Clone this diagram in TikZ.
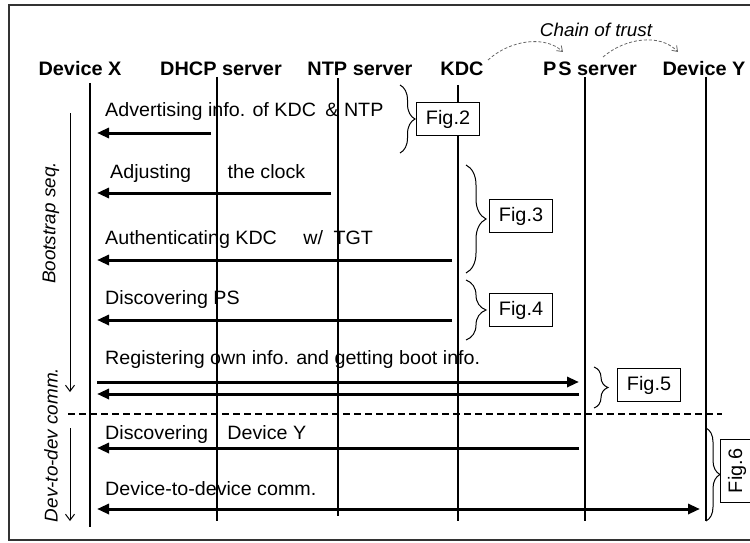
\documentclass[tikz,border=0pt]{standalone}
\usepackage{fontspec}
\setmainfont{Liberation Sans}[FakeStretch=1.02]
\usetikzlibrary{arrows.meta,decorations.pathreplacing}
\begin{document}
\begin{tikzpicture}[x=1pt,y=-1pt,
  head/.style={font=\bfseries\fontsize{19.5}{21}\selectfont, anchor=base, inner sep=0pt},
  msg/.style={font=\fontsize{19.3}{21}\selectfont, anchor=base west, inner sep=0pt},
  sidelabel/.style={font=\itshape\fontsize{18.5}{21}\selectfont, rotate=90, inner sep=0pt},
  life/.style={line width=1.2pt},
  msgarrow/.style={line width=3pt, -{Triangle[length=12pt,width=10pt]}},
  botharrow/.style={line width=3pt, {Triangle[length=12pt,width=10pt]}-{Triangle[length=12pt,width=10pt]}},
  seqarrow/.style={line width=1pt, -{Straight Barb[length=6pt,width=9pt]}},
  trust/.style={line width=0.8pt, black!60, dash pattern=on 3pt off 2pt, -{Straight Barb[length=5pt,width=7pt]}},
  figbox/.style={draw, fill=white, line width=1.2pt, font=\fontsize{19.5}{21}\selectfont, minimum width=63pt, minimum height=33pt, inner sep=0pt},
  bracedeco/.style={line width=1pt, decorate, decoration={brace, amplitude=#1}}
]
\useasboundingbox (0,0) rectangle (750,543);
% frame
\draw[line width=1.8pt, black!80] (770,5) -- (9,5) -- (9,540) -- (770,540);

% headers
\node[head] (hX) at (80,76) {Device X};
\node[head] (hD) at (221,76) {DHCP server};
\node[head] (hN) at (360,76) {NTP server};
\node[head] (hK) at (462,76) {KDC};
\node[head] (hP) at (590,76) {P\hspace{2pt}S server};
\node[head] (hY) at (704,76) {Device Y};
\node[font=\itshape\fontsize{18.5}{21}\selectfont, inner sep=0pt] (cot) at (596,30) {Chain of trust};

% lifelines
\coordinate (xT) at (90,83);  \coordinate (xB) at (90,527);
\coordinate (dT) at (217,77); \coordinate (dB) at (217,521);
\coordinate (nT) at (338,78); \coordinate (nB) at (338,516);
\coordinate (kT) at (458,85); \coordinate (kB) at (458,521);
\coordinate (pT) at (585,77); \coordinate (pB) at (585,521);
\coordinate (yT) at (706,77); \coordinate (yB) at (706,521);
\foreach \a/\b in {xT/xB,dT/dB,nT/nB,kT/kB,pT/pB,yT/yB} \draw[life] (\a) -- (\b);

% chain of trust
\coordinate (c1s) at (488,60); \coordinate (c1e) at (563,52);
\coordinate (c2s) at (603,57); \coordinate (c2e) at (678,52);
\draw[trust] (c1s) .. controls (510,40) and (545,35) .. (c1e);
\draw[trust] (c2s) .. controls (625,38) and (660,33) .. (c2e);

% messages
\node[msg] (m1) at (105,117) {Advertising info. of KDC\hspace{4pt} \& NTP};
\coordinate (a1s) at (211,133); \coordinate (a1e) at (97,133);
\draw[msgarrow] (a1s) -- (a1e);

\node[msg] (m2) at (110,178) {Adjusting\hspace{31pt} the clock};
\coordinate (a2s) at (331,193); \coordinate (a2e) at (97,193);
\draw[msgarrow] (a2s) -- (a2e);

\node[msg] (m3) at (105,244) {Authenticating KDC\hspace{21pt} w/\hspace{5pt} TGT};
\coordinate (a3s) at (452,260); \coordinate (a3e) at (97,260);
\draw[msgarrow] (a3s) -- (a3e);

\node[msg] (m4) at (105,304) {Discovering PS};
\coordinate (a4s) at (452,320); \coordinate (a4e) at (97,320);
\draw[msgarrow] (a4s) -- (a4e);

\node[msg] (m5) at (105,364) {Registering own info. and getting boot info.};
\coordinate (a5s) at (97,382); \coordinate (a5e) at (579,382);
\draw[msgarrow] (a5s) -- (a5e);
\coordinate (a6s) at (579,394); \coordinate (a6e) at (97,394);
\draw[msgarrow] (a6s) -- (a6e);

\node[msg] (m6) at (105,439) {Discovering\hspace{14pt} Device Y};
\coordinate (a7s) at (579,448); \coordinate (a7e) at (97,448);
\draw[msgarrow] (a7s) -- (a7e);

\node[msg] (m7) at (105,495) {Device-to-device comm.};
\coordinate (a8s) at (97,509); \coordinate (a8e) at (700,509);
\draw[botharrow] (a8s) -- (a8e);

% separator
\coordinate (sepL) at (68,414); \coordinate (sepR) at (722,414);
\draw[line width=1.2pt, dash pattern=on 7pt off 4pt] (sepL) -- (sepR);

% phases on the left
\coordinate (b1s) at (70,113); \coordinate (b1e) at (70,392);
\draw[seqarrow] (b1s) -- (b1e);
\coordinate (b2s) at (70,428); \coordinate (b2e) at (70,521);
\draw[seqarrow] (b2s) -- (b2e);
\node[sidelabel] (lb) at (51,223) {Bootstrap seq.};
\node[sidelabel] (ld) at (51,445) {Dev-to-dev comm.};

% braces and figure references
\draw[bracedeco=15pt] (400,85) -- (400,153);
\node[figbox] (f2) at (448,119) {Fig.2};
\draw[bracedeco=20pt] (466,165) -- (466,273);
\node[figbox] (f3) at (521,216) {Fig.3};
\draw[bracedeco=20pt] (466,280) -- (466,340);
\node[figbox] (f4) at (521,310) {Fig.4};
\draw[bracedeco=14pt] (594,367) -- (594,408);
\node[figbox] (f5) at (649,385) {Fig.5};
\draw[bracedeco=14pt] (706,428) -- (706,521);
\node[figbox, rotate=90] (f6) at (737,471) {Fig.6};
\end{tikzpicture}
\end{document}
